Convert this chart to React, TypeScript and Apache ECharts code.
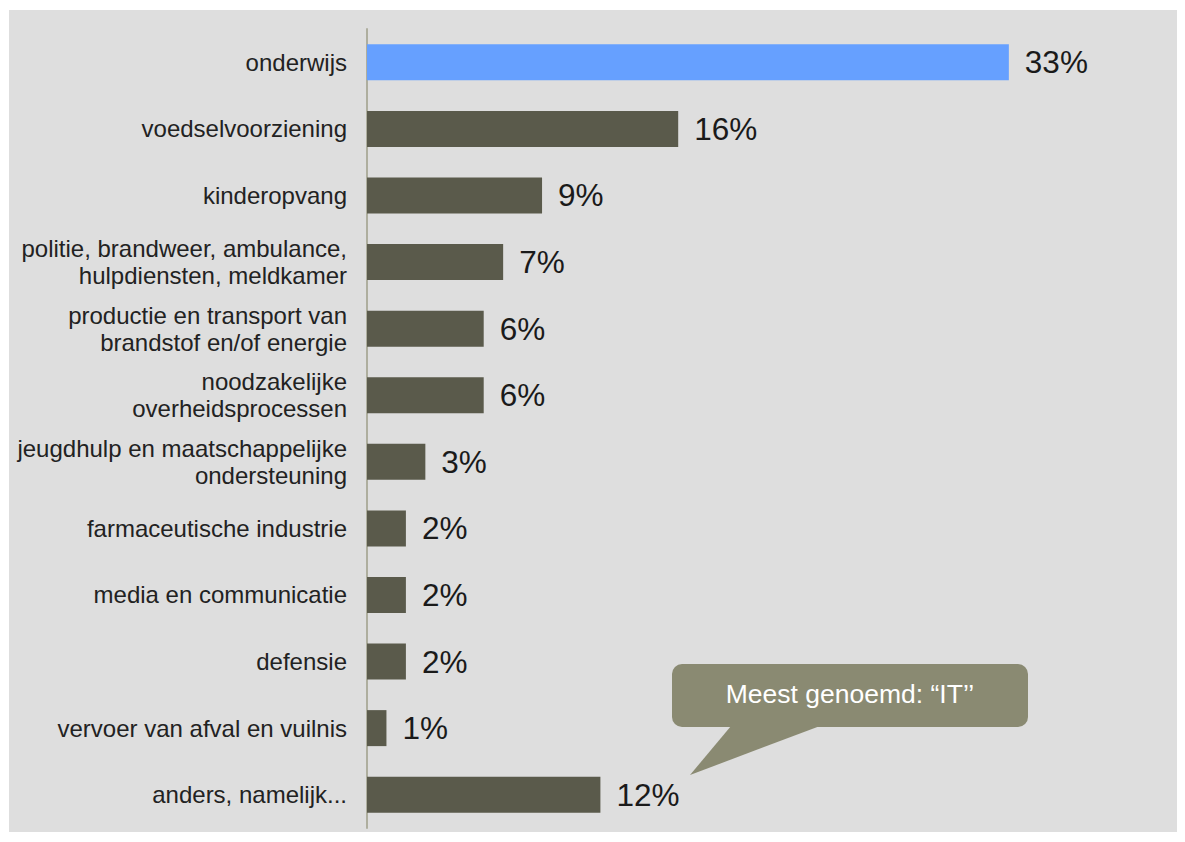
import React, { useEffect, useRef } from "react";
import * as echarts from "echarts";

const categories: string[] = [
  "onderwijs",
  "voedselvoorziening",
  "kinderopvang",
  "politie, brandweer, ambulance,\nhulpdiensten, meldkamer",
  "productie en transport van\nbrandstof en/of energie",
  "noodzakelijke\noverheidsprocessen",
  "jeugdhulp en maatschappelijke\nondersteuning",
  "farmaceutische industrie",
  "media en communicatie",
  "defensie",
  "vervoer van afval en vuilnis",
  "anders, namelijk...",
];
const values: number[] = [33, 16, 9, 7, 6, 6, 3, 2, 2, 2, 1, 12];
const highlightIndex = 0;
const calloutText = "Meest genoemd: \u201CIT\u2019\u2019";

export default function App() {
  const ref = useRef<HTMLDivElement>(null);
  useEffect(() => {
    if (!ref.current) return;
    const chart = echarts.init(ref.current, null, { renderer: "svg" });
    const font = "'Liberation Sans', Arial, Helvetica, sans-serif";
    chart.setOption({
      animation: false,
      backgroundColor: "#ffffff",
      textStyle: { fontFamily: font },
      grid: { left: 367, top: 29, bottom: 14, right: 40, containLabel: false },
      xAxis: {
        type: "value",
        min: 0,
        max: 40,
        show: false,
      },
      yAxis: {
        type: "category",
        data: categories,
        inverse: true,
        axisTick: { show: false },
        axisLine: { show: true, lineStyle: { color: "#aeae9e", width: 2 } },
        axisLabel: {
          margin: 20,
          fontSize: 24,
          lineHeight: 27,
          color: "#222222",
          fontFamily: font,
          align: "right",
        },
        splitLine: { show: false },
      },
      series: [
        {
          type: "bar",
          barWidth: 36,
          data: values.map((v, i) => ({
            value: v,
            itemStyle: { color: i === highlightIndex ? "#66a0ff" : "#5a5a4b" },
          })),
          label: {
            show: true,
            position: "right",
            distance: 16,
            formatter: "{c}%",
            fontSize: 31.5,
            color: "#1a1a1a",
            fontFamily: font,
          },
          z: 3,
        },
      ],
      graphic: [
        {
          type: "rect",
          z: -10,
          silent: true,
          shape: { x: 9, y: 10, width: 1168, height: 822 },
          style: { fill: "#dedede" },
        },
        {
          type: "polygon",
          z: 10,
          silent: true,
          shape: { points: [[731, 726], [820, 726], [690, 775]] },
          style: { fill: "#8a8a72" },
        },
        {
          type: "rect",
          z: 10,
          silent: true,
          shape: { x: 672, y: 664, width: 356, height: 63, r: 10 },
          style: { fill: "#8a8a72" },
        },
        {
          type: "text",
          z: 11,
          silent: true,
          x: 850,
          y: 694,
          style: {
            text: calloutText,
            fill: "#ffffff",
            font: `26.5px ${font}`,
            align: "center",
            verticalAlign: "middle",
          },
        },
      ],
    });
    return () => chart.dispose();
  }, []);
  return (
    <div
      ref={ref}
      style={{ position: "absolute", left: 0, top: 0, width: 1185, height: 842 }}
    />
  );
}
